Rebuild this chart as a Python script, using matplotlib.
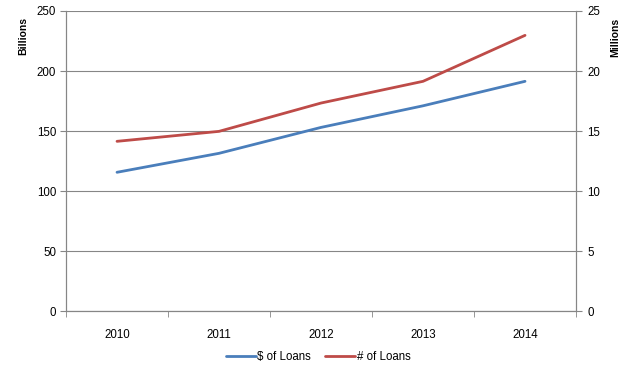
import matplotlib
matplotlib.use('Agg')
import matplotlib.pyplot as plt

years = ['2010', '2011', '2012', '2013', '2014']
dollar_loans = [115.6, 131.4, 153.0, 171.0, 191.4]   # billions
count_loans = [14.14, 14.97, 17.33, 19.14, 22.97]    # millions

blue = '#4A7EBB'
red = '#BE4B48'
gray = '#868686'

plt.rcParams['font.family'] = ['Liberation Sans', 'DejaVu Sans']
plt.rcParams['font.size'] = 8.3

fig = plt.figure(figsize=(6.36, 3.74), dpi=100)
ax = fig.add_axes([0.1038, 0.1684, 0.8019, 0.8022])
ax2 = ax.twinx()

x = list(range(len(years)))
l1, = ax.plot(x, dollar_loans, color=blue, lw=2.0, solid_capstyle='round')
l2, = ax2.plot(x, count_loans, color=red, lw=2.0, solid_capstyle='round')

ax.set_xlim(-0.5, len(years) - 0.5)
ax.set_ylim(0, 250)
ax2.set_ylim(0, 25)
ax.set_yticks(range(0, 251, 50))
ax2.set_yticks(range(0, 26, 5))

ax.set_xticks(x)
ax.set_xticklabels(years)
ax.set_xticks([i - 0.5 for i in range(len(years) + 1)], minor=True)
ax.tick_params(axis='x', which='major', length=0, pad=13)
ax.tick_params(axis='x', which='minor', length=4, color=gray)
ax.tick_params(axis='y', length=4, color=gray, pad=3)
ax2.tick_params(axis='y', length=4, color=gray, pad=4)

ax.grid(axis='y', color=gray, lw=0.8)
ax.set_axisbelow(True)

for a in (ax, ax2):
    a.spines['top'].set_visible(False)
    for s in ('left', 'right', 'bottom'):
        a.spines[s].set_color(gray)
        a.spines[s].set_linewidth(0.8)

fig.text(0.037, 0.905, 'Billions', rotation=90, ha='center', va='center', fontweight='bold', fontsize=7.5)
fig.text(0.968, 0.900, 'Millions', rotation=90, ha='center', va='center', fontweight='bold', fontsize=7.5)

fig.legend([l1, l2], ['$ of Loans', '# of Loans'], loc='center', bbox_to_anchor=(0.5, 0.045),
           ncol=2, frameon=False, handlelength=2.6, handletextpad=0.1, columnspacing=1.3)

fig.savefig('out.png', dpi=100)
